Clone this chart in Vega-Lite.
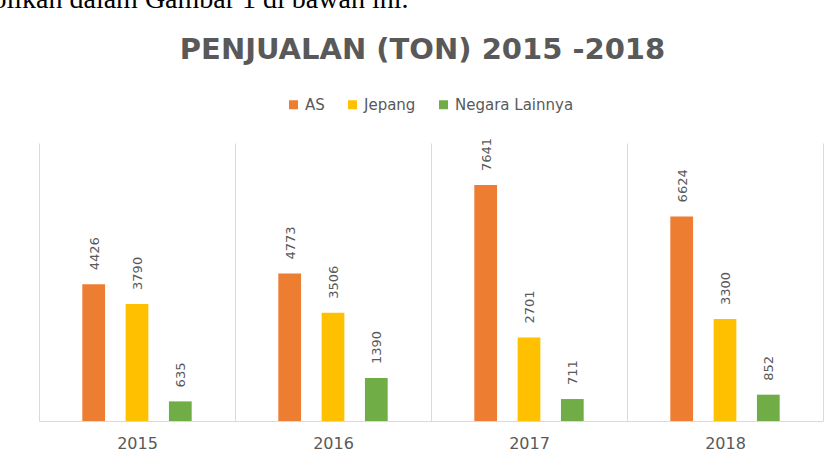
{
  "$schema": "https://vega.github.io/schema/vega-lite/v6.json",
  "width": 784,
  "height": 278,
  "autosize": {"type": "none"},
  "padding": {"left": 39, "top": 143, "right": 2, "bottom": 43},
  "background": "white",
  "config": {"view": {"stroke": null}, "font": "DejaVu Sans"},
  "data": {
    "values": [
      {"tahun": "2015", "negara": "AS", "ton": 4426},
      {"tahun": "2015", "negara": "Jepang", "ton": 3790},
      {"tahun": "2015", "negara": "Negara Lainnya", "ton": 635},
      {"tahun": "2016", "negara": "AS", "ton": 4773},
      {"tahun": "2016", "negara": "Jepang", "ton": 3506},
      {"tahun": "2016", "negara": "Negara Lainnya", "ton": 1390},
      {"tahun": "2017", "negara": "AS", "ton": 7641},
      {"tahun": "2017", "negara": "Jepang", "ton": 2701},
      {"tahun": "2017", "negara": "Negara Lainnya", "ton": 711},
      {"tahun": "2018", "negara": "AS", "ton": 6624},
      {"tahun": "2018", "negara": "Jepang", "ton": 3300},
      {"tahun": "2018", "negara": "Negara Lainnya", "ton": 852}
    ]
  },
  "resolve": {"axis": {"x": "independent", "y": "independent"}},
  "layer": [
    {
      "mark": {"type": "bar"},
      "encoding": {
        "x": {
          "field": "tahun",
          "type": "nominal",
          "scale": {"paddingInner": 0, "paddingOuter": 0},
          "axis": {
            "orient": "bottom",
            "title": null,
            "labelAngle": 0,
            "tickBand": "extent",
            "grid": true,
            "gridColor": "#d9d9d9",
            "ticks": false,
            "domainColor": "#d9d9d9",
            "labelFontSize": 16,
            "labelColor": "#595959",
            "labelPadding": 14
          }
        },
        "xOffset": {
          "field": "negara",
          "type": "nominal",
          "sort": ["AS", "Jepang", "Negara Lainnya"],
          "scale": {"paddingInner": 0.475, "paddingOuter": 1.19}
        },
        "y": {
          "field": "ton",
          "type": "quantitative",
          "scale": {"domain": [0, 9000], "nice": false},
          "axis": {
            "orient": "right",
            "labels": false,
            "ticks": false,
            "grid": false,
            "domain": false,
            "title": "ditampilkan dalam Gambar 1 di bawah ini.",
            "titleAngle": 0,
            "titleX": -415,
            "titleY": -136,
            "titleAlign": "right",
            "titleBaseline": "alphabetic",
            "titleFont": "Liberation Serif",
            "titleFontSize": 28,
            "titleFontWeight": "normal",
            "titleColor": "#000000",
            "titleLimit": 2000
          }
        },
        "color": {
          "field": "negara",
          "type": "nominal",
          "scale": {
            "domain": ["AS", "Jepang", "Negara Lainnya"],
            "range": ["#ED7D31", "#FFC000", "#70AD47"]
          },
          "legend": {
            "orient": "none",
            "legendX": 247,
            "legendY": -46,
            "direction": "horizontal",
            "title": null,
            "symbolType": "square",
            "symbolSize": 81,
            "symbolStrokeWidth": 0,
            "labelFontSize": 15,
            "labelColor": "#595959",
            "columnPadding": 20,
            "labelOffset": 4,
            "padding": 0
          }
        }
      }
    },
    {
      "mark": {
        "type": "text",
        "angle": 270,
        "align": "left",
        "baseline": "middle",
        "dx": 14,
        "dy": 1,
        "fontSize": 13,
        "color": "#595959"
      },
      "encoding": {
        "x": {
          "field": "tahun",
          "type": "nominal",
          "axis": {
            "orient": "top",
            "labels": false,
            "ticks": false,
            "domain": false,
            "grid": false,
            "title": "PENJUALAN (TON) 2015 -2018",
            "titleX": 383,
            "titleY": -85,
            "titleAlign": "center",
            "titleBaseline": "alphabetic",
            "titleFontSize": 29,
            "titleFontWeight": "bold",
            "titleColor": "#595959",
            "titleLimit": 2000
          }
        },
        "xOffset": {
          "field": "negara",
          "type": "nominal",
          "sort": ["AS", "Jepang", "Negara Lainnya"]
        },
        "y": {"field": "ton", "type": "quantitative", "axis": null},
        "text": {"field": "ton", "type": "quantitative", "format": "d"}
      }
    }
  ]
}
